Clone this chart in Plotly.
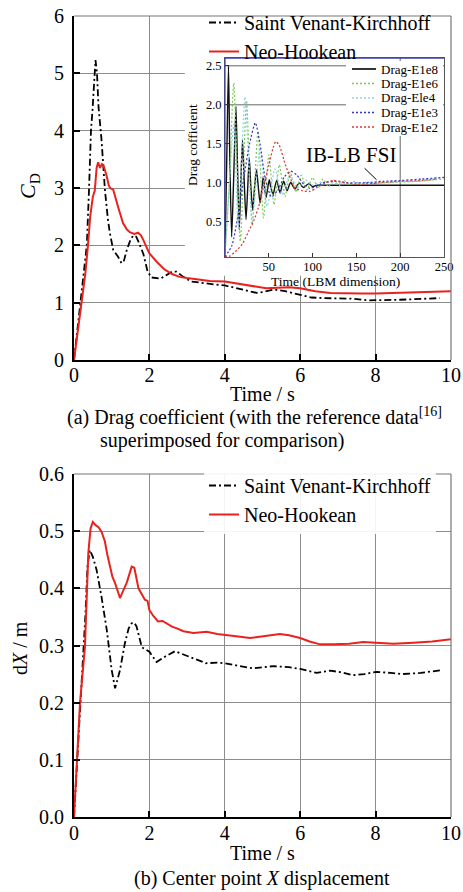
import plotly.graph_objects as go

FONT = "Liberation Serif, Times New Roman, serif"
W, H = 463, 892

# ---------------- data: (a) drag coefficient ----------------
svk_cd_t = [0, 0.08, 0.16, 0.25, 0.34, 0.4, 0.45, 0.49, 0.53, 0.57, 0.61, 0.65, 0.73, 0.82,
            0.9, 0.95, 1.04, 1.17, 1.26, 1.32, 1.4, 1.5, 1.57, 1.65, 1.72, 1.84, 1.95, 2.05,
            2.3, 2.45, 2.6, 2.72, 2.9, 3.1, 3.4, 3.7, 4.0, 4.3, 4.6, 4.85, 5.05, 5.3, 5.6,
            5.9, 6.1, 6.3, 6.6, 7.0, 7.4, 7.8, 8.2, 8.6, 9.0, 9.4, 9.7]
svk_cd = [0, 0.5, 1.0, 1.5, 2.0, 3.0, 4.0, 4.35, 4.9, 5.23, 5.0, 4.42, 3.84, 2.97,
          2.45, 2.22, 1.92, 1.8, 1.69, 1.72, 1.92, 2.1, 2.17, 2.15, 2.05, 1.85, 1.55, 1.44,
          1.42, 1.48, 1.54, 1.54, 1.45, 1.37, 1.34, 1.32, 1.30, 1.25, 1.2, 1.17, 1.19, 1.23, 1.2,
          1.15, 1.12, 1.09, 1.08, 1.08, 1.07, 1.04, 1.04, 1.05, 1.06, 1.07, 1.08]

nh_cd_t = [0, 0.1, 0.2, 0.3, 0.37, 0.43, 0.5, 0.55, 0.6, 0.64, 0.69, 0.74, 0.78, 0.83, 0.87,
           0.92, 0.96, 1.04, 1.1, 1.17, 1.3, 1.4, 1.48, 1.6, 1.7, 1.78, 1.84, 1.92, 2.0, 2.2,
           2.4, 2.6, 2.8, 3.0, 3.3, 3.6, 4.0, 4.4, 4.8, 5.1, 5.4, 5.7, 6.0, 6.4, 6.8, 7.2,
           7.6, 8.0, 8.5, 9.0, 9.5, 10.0]
nh_cd = [0, 0.5, 1.0, 1.5, 2.0, 2.5, 2.85, 2.95, 3.35, 3.45, 3.35, 3.42, 3.4, 3.3, 3.2,
         3.05, 3.0, 2.97, 2.82, 2.67, 2.39, 2.28, 2.23, 2.2, 2.22, 2.17, 2.09, 1.97, 1.86, 1.71,
         1.58, 1.5, 1.45, 1.43, 1.4, 1.38, 1.37, 1.33, 1.28, 1.25, 1.26, 1.27, 1.25, 1.2, 1.17, 1.16,
         1.16, 1.16, 1.17, 1.17, 1.18, 1.2]

# ---------------- data: inset (reference [16], LBM time) ----------------
e8_t = [0, 2, 4, 5.5, 7.6, 10, 12.5, 14.5, 16.3, 18, 20, 22, 24, 26, 27.7, 29.5, 31.6, 33.8,
        36, 38, 40, 42, 43.7, 45.3, 46.8, 48.7, 50.5, 52.5, 55, 57, 59, 61, 63, 65, 67, 69,
        71, 73, 75, 77.5, 80, 82.5, 85, 87.5, 90, 93, 96, 100, 105, 115, 250]
e8_v = [0.1, 1.3, 2.5, 1.3, 0.31, 1.1, 1.98, 1.1, 0.4, 1.0, 1.55, 1.0, 0.53, 0.95, 1.32, 0.95,
        0.65, 0.95, 1.17, 0.95, 0.74, 0.92, 1.08, 0.93, 0.81, 0.93, 1.04, 0.93, 0.85, 0.95,
        1.03, 0.95, 0.87, 0.96, 1.02, 0.96, 0.9, 0.96, 1.01, 0.96, 0.92, 0.97, 1.0, 0.96,
        0.94, 0.97, 0.99, 0.95, 0.97, 0.97, 0.97]

e6_t = [0, 5, 10, 17.5, 24.5, 31, 37.6, 44, 50, 56, 62, 68.5, 74.5, 81, 87, 93.5, 100, 106,
        112, 118, 124, 130, 136, 142, 148, 155, 162, 170, 180, 200, 220, 240, 250]
e6_v = [0.08, 1.0, 2.28, 0.25, 2.05, 0.45, 1.66, 0.55, 1.36, 0.72, 1.23, 0.82, 1.14, 0.88,
        1.1, 0.91, 1.07, 0.93, 1.05, 0.95, 1.04, 0.96, 1.03, 0.97, 1.02, 0.98, 1.01, 0.99,
        1.0, 1.01, 1.02, 1.04, 1.05]

e4_t = [0, 5, 10, 15, 22.8, 31, 40, 48, 57, 65, 74, 83, 92, 100, 110, 130, 150, 175, 200, 225, 250]
e4_v = [0.05, 1.0, 1.75, 0.45, 2.1, 0.5, 1.45, 0.7, 1.18, 0.85, 1.1, 0.93, 1.04, 0.97, 1.01,
        0.99, 1.0, 1.01, 1.02, 1.04, 1.07]

e3_t = [0, 8, 15, 22, 28, 34.6, 40, 46, 53, 60, 68, 75, 82, 90, 97, 105, 115, 125, 140, 160,
        180, 200, 225, 250]
e3_v = [0.05, 0.2, 0.6, 1.1, 1.5, 1.77, 1.5, 1.05, 0.82, 0.9, 1.08, 1.15, 1.1, 0.98, 0.93,
        0.96, 1.01, 1.02, 1.0, 1.0, 1.02, 1.03, 1.05, 1.07]

e2_t = [0, 5, 12, 20, 27, 33, 38, 44, 50, 55, 58, 62, 69, 75, 80, 88, 97, 105, 115, 123.5,
        135, 150, 175, 200, 225, 241]
e2_v = [0.05, 0.06, 0.12, 0.22, 0.38, 0.52, 0.68, 0.95, 1.23, 1.45, 1.53, 1.48, 1.23, 1.05,
        0.93, 0.9, 0.89, 0.94, 1.0, 1.03, 1.01, 0.98, 1.0, 1.02, 1.03, 1.05]

# ---------------- data: (b) centre point X displacement ----------------
svk_dx_t = [0, 0.15, 0.3, 0.36, 0.42, 0.5, 0.6, 0.73, 0.87, 1.0, 1.09, 1.22, 1.35, 1.45,
            1.53, 1.6, 1.66, 1.8, 2.0, 2.19, 2.4, 2.68, 2.9, 3.17, 3.5, 3.8, 4.0, 4.4, 4.76,
            5.0, 5.3, 5.7, 6.0, 6.44, 6.8, 7.1, 7.4, 7.7, 8.03, 8.4, 8.7, 9.2, 9.5, 9.76]
svk_dx = [0, 0.17, 0.35, 0.44, 0.467, 0.455, 0.432, 0.385, 0.327, 0.257, 0.225, 0.257, 0.304,
          0.33, 0.339, 0.34, 0.333, 0.297, 0.289, 0.271, 0.28, 0.29, 0.284, 0.278, 0.269,
          0.27, 0.269, 0.264, 0.26, 0.262, 0.264, 0.262, 0.259, 0.252, 0.256, 0.253, 0.248,
          0.25, 0.254, 0.252, 0.25, 0.252, 0.254, 0.257]

nh_dx_t = [0, 0.16, 0.29, 0.38, 0.44, 0.5, 0.58, 0.65, 0.73, 0.82, 0.88, 0.95, 1.02, 1.09,
           1.22, 1.3, 1.4, 1.53, 1.6, 1.71, 1.8, 1.88, 1.95, 2.0, 2.1, 2.23, 2.35, 2.46, 2.6,
           2.73, 2.9, 3.17, 3.52, 3.8, 4.0, 4.3, 4.67, 5.0, 5.46, 5.7, 6.0, 6.25, 6.53, 6.9,
           7.3, 7.67, 8.0, 8.47, 9.0, 9.5, 10.0]
nh_dx = [0, 0.2, 0.297, 0.462, 0.505, 0.516, 0.51, 0.507, 0.499, 0.482, 0.46, 0.438, 0.42,
         0.409, 0.383, 0.395, 0.41, 0.438, 0.436, 0.4, 0.39, 0.38, 0.378, 0.362, 0.352, 0.342,
         0.343, 0.339, 0.333, 0.33, 0.325, 0.322, 0.324, 0.32, 0.318, 0.316, 0.313, 0.316,
         0.32, 0.318, 0.313, 0.307, 0.302, 0.302, 0.303, 0.306, 0.305, 0.303, 0.305, 0.307, 0.311]

main_xticks = [0, 2, 4, 6, 8, 10]
cd_yticks = [0, 1, 2, 3, 4, 5, 6]
dx_yticks = [0.0, 0.1, 0.2, 0.3, 0.4, 0.5, 0.6]
inset_xticks = [50, 100, 150, 200, 250]
inset_yticks = [0.5, 1.0, 1.5, 2.0, 2.5]


def px(x):
    return x / W


def py(y):
    return 1 - y / H


RED = "#e8231f"
DASHDOT = "7px,3px,2px,3px"
DOT = "2px,2px"

fig = go.Figure()

# (a) main curves
fig.add_trace(go.Scatter(x=svk_cd_t, y=svk_cd, mode="lines", name="Saint Venant-Kirchhoff",
                         line=dict(color="black", width=1.8, dash=DASHDOT),
                         xaxis="x", yaxis="y", legend="legend"))
fig.add_trace(go.Scatter(x=nh_cd_t, y=nh_cd, mode="lines", name="Neo-Hookean",
                         line=dict(color=RED, width=2),
                         xaxis="x", yaxis="y", legend="legend"))

# inset curves (legend of the inset is drawn as a small key below)
inset_series = [
    ("Drag-E1e8", e8_t, e8_v, "#111111", "solid", 1.4),
    ("Drag-E1e6", e6_t, e6_v, "#7cc85a", DOT, 1.2),
    ("Drag-Ele4", e4_t, e4_v, "#8fd3ea", DOT, 1.2),
    ("Drag-E1e3", e3_t, e3_v, "#3535c8", DOT, 1.2),
    ("Drag-E1e2", e2_t, e2_v, "#e03a3a", DOT, 1.3),
]
for name, t, v, c, d, w in inset_series:
    fig.add_trace(go.Scatter(x=t, y=v, mode="lines", name=name, showlegend=False,
                             line=dict(color=c, width=w, dash=d, shape="spline", smoothing=0.6),
                             xaxis="x3", yaxis="y3"))

# (b) curves
fig.add_trace(go.Scatter(x=svk_dx_t, y=svk_dx, mode="lines", name="Saint Venant-Kirchhoff",
                         line=dict(color="black", width=1.8, dash=DASHDOT),
                         xaxis="x2", yaxis="y2", legend="legend3"))
fig.add_trace(go.Scatter(x=nh_dx_t, y=nh_dx, mode="lines", name="Neo-Hookean",
                         line=dict(color=RED, width=2),
                         xaxis="x2", yaxis="y2", legend="legend3"))

GRID = "#8c8c8c"
main_axis = dict(showline=True, linecolor="black", linewidth=2.2, ticks="inside", ticklen=6,
                 tickwidth=1.5, tickcolor="black", showgrid=True, gridcolor=GRID, gridwidth=1,
                 zeroline=False, automargin=False,
                 tickfont=dict(family=FONT, size=20, color="black"))

inset_axis = dict(showline=True, linecolor="#555555", linewidth=1, mirror=True, ticks="inside",
                  ticklen=4, tickwidth=1, tickcolor="#333333", showgrid=False, zeroline=False,
                  automargin=False, tickfont=dict(family=FONT, size=12.5, color="black"))

fig.update_layout(
    width=W, height=H, margin=dict(l=0, r=0, t=0, b=0, autoexpand=False),
    paper_bgcolor="white", plot_bgcolor="rgba(0,0,0,0)",
    font=dict(family=FONT, color="black"),
    xaxis=dict(domain=[px(74), px(451)], range=[0, 10], tickvals=main_xticks, anchor="y",
               ticklabelstandoff=-4, **main_axis),
    yaxis=dict(domain=[py(360), py(16)], range=[0, 6], tickvals=cd_yticks, anchor="x",
               ticklabelstandoff=4, **main_axis),
    xaxis2=dict(domain=[px(74), px(451)], range=[0, 10], tickvals=main_xticks, anchor="y2",
                ticklabelstandoff=-3, **main_axis),
    yaxis2=dict(domain=[py(817), py(474)], range=[0, 0.6], tickvals=dx_yticks, tickformat=".1f",
                anchor="x2", ticklabelstandoff=4, **main_axis),
    xaxis3=dict(domain=[px(225), px(444)], range=[0, 250], tickvals=inset_xticks, anchor="y3",
                ticklabelstandoff=-2, **inset_axis),
    yaxis3=dict(domain=[py(257), py(58)], range=[0.05, 2.6], tickvals=inset_yticks, tickformat=".1f",
                anchor="x3", **inset_axis),
    legend=dict(x=px(204), y=py(3), xanchor="left", yanchor="top", bgcolor="rgba(0,0,0,0)",
                font=dict(family=FONT, size=20, color="black"), tracegroupgap=0),
    legend3=dict(x=px(204), y=py(466), xanchor="left", yanchor="top", bgcolor="rgba(255,255,255,0.9)",
                 font=dict(family=FONT, size=20, color="black"), tracegroupgap=0),
    showlegend=True,
)

shapes = [
    # white area behind the inset and the legend (hides main grid there)
    dict(type="rect", xref="x", yref="y", x0=2.94, x1=10, y0=1.47, y1=6, layer="between",
         fillcolor="white", line=dict(width=0)),
    # main frames top/right (grey)
    dict(type="line", xref="x domain", yref="y domain", x0=0, x1=1, y0=1, y1=1,
         line=dict(color="#777777", width=1.2), layer="above"),
    dict(type="line", xref="x domain", yref="y domain", x0=1, x1=1, y0=0, y1=1,
         line=dict(color="#777777", width=1.2), layer="above"),
    dict(type="line", xref="x2 domain", yref="y2 domain", x0=0, x1=1, y0=1, y1=1,
         line=dict(color="#777777", width=1.2), layer="above"),
    dict(type="line", xref="x2 domain", yref="y2 domain", x0=1, x1=1, y0=0, y1=1,
         line=dict(color="#777777", width=1.2), layer="above"),
    # inset grid pieces
    dict(type="line", xref="x3", yref="y3", x0=0, x1=250, y0=2.5, y1=2.5, layer="between",
         line=dict(color="#666666", width=1)),
    dict(type="line", xref="x3", yref="y3", x0=0, x1=250, y0=2.0, y1=2.0, layer="between",
         line=dict(color="#666666", width=1)),
    dict(type="line", xref="x3", yref="y3", x0=200, x1=200, y0=0.05, y1=2.6, layer="between",
         line=dict(color="#666666", width=1)),
    # inset blue frame top/left
    dict(type="line", xref="x3 domain", yref="y3 domain", x0=0, x1=1, y0=1, y1=1,
         line=dict(color="#4040b0", width=1.5), layer="above"),
    dict(type="line", xref="x3 domain", yref="y3 domain", x0=0, x1=0, y0=0, y1=1,
         line=dict(color="#4040b0", width=1.2), layer="above"),
    # inset key background
    dict(type="rect", xref="paper", yref="paper", x0=px(346), x1=px(443), y0=py(136), y1=py(61),
         fillcolor="white", line=dict(width=0), layer="above"),
]

annotations = []


def ann(text, x, y, size=20, angle=0, xanchor="center"):
    return dict(text=text, x=px(x), y=py(y), xref="paper", yref="paper", showarrow=False,
                xanchor=xanchor, yanchor="middle", textangle=angle,
                font=dict(family=FONT, size=size, color="black"))


# inset key (sample line + label for every inset series)
key_rows = [69, 83.5, 98, 112.5, 127]
for (name, t, v, c, d, w), ry in zip(inset_series, key_rows):
    shapes.append(dict(type="line", xref="paper", yref="paper", x0=px(352), x1=px(376),
                       y0=py(ry), y1=py(ry), layer="above",
                       line=dict(color=c, width=w + 0.3, dash=d)))
    annotations.append(ann(name, 379, ry, size=13, xanchor="left"))

fig.update_layout(shapes=shapes)

annotations += [
    ann("<i>C</i><sub>D</sub>", 29, 186, size=22, angle=-90),
    ann("Time / s", 262, 394),
    ann("(a) Drag coefficient (with the reference data<sup>[16]</sup>", 65, 416, xanchor="left"),
    ann("superimposed for comparison)", 98, 440, xanchor="left"),
    ann("d<i>X</i> / m", 20, 648, angle=-90),
    ann("Time / s", 262, 853),
    ann("(b) Center point <i>X</i> displacement", 262, 878),
    ann("Drag cofficient", 193, 145, size=13.5, angle=-90),
    ann("Time (LBM dimension)", 335, 281, size=13.5),
    dict(text="IB-LB FSI", x=173, y=1.04, xref="x3", yref="y3", showarrow=True, arrowhead=0,
         arrowwidth=1, arrowcolor="black", ax=-26, ay=-25,
         font=dict(family=FONT, size=21, color="black")),
]
fig.update_layout(annotations=annotations)

fig.write_html("out.html", config={"displayModeBar": False},
               post_script="document.body.style.margin='0px';")
